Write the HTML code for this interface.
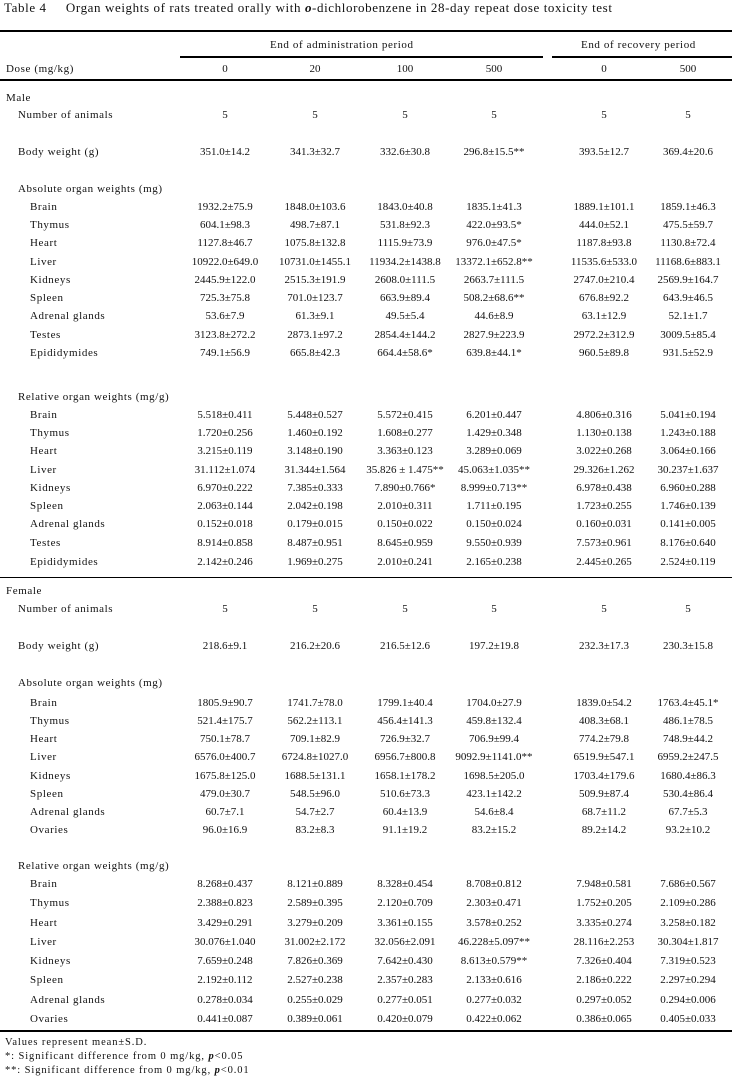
<!DOCTYPE html><html><head><meta charset="utf-8"><style>
body{margin:0;width:732px;height:1079px;background:#fff;position:relative;overflow:hidden;font-family:"Liberation Serif","Noto Serif CJK SC",serif;font-size:11px;color:#111;letter-spacing:0.6px}
.r{position:absolute;left:0;width:732px;height:14px;line-height:14px;white-space:nowrap}
.r span{position:absolute;top:0}
.l0{left:6px}.l1{left:18px}.l2{left:30px}
.c1,.c2,.c3,.c4,.c5,.c6{width:110px;text-align:center;letter-spacing:0}
.c1{left:170px}.c2{left:260px}.c3{left:350px}.c4{left:439px}.c5{left:549px}.c6{left:633px}
.hr{position:absolute;background:#000}
.ft{font-size:10.5px;letter-spacing:0.9px}
</style></head><body>
<div class="r" style="top:1px;font-size:13px;letter-spacing:0.6px"><span style="left:4px">Table 4&nbsp;&nbsp;&nbsp;&nbsp;&nbsp;Organ weights of rats treated orally with <i><b>o</b></i>-dichlorobenzene in 28-day repeat dose toxicity test</span></div>
<div class="hr" style="left:0;top:30px;width:732px;height:2px"></div>
<div class="r" style="top:38px"><span style="left:270px">End of administration period</span><span style="left:581px">End of recovery period</span></div>
<div class="hr" style="left:180px;top:56px;width:363px;height:1.5px"></div>
<div class="hr" style="left:552px;top:56px;width:180px;height:1.5px"></div>
<div class="r" style="top:62px"><span class="l0">Dose (mg/kg)</span><span class="c1">0</span><span class="c2">20</span><span class="c3">100</span><span class="c4">500</span><span class="c5">0</span><span class="c6">500</span></div>
<div class="hr" style="left:0;top:79px;width:732px;height:1.5px"></div>

<div class="r" style="top:91px"><span class="l0">Male</span></div>
<div class="r" style="top:108px"><span class="l1">Number of animals</span><span class="c1">5</span><span class="c2">5</span><span class="c3">5</span><span class="c4">5</span><span class="c5">5</span><span class="c6">5</span></div>
<div class="r" style="top:145px"><span class="l1">Body weight (g)</span><span class="c1">351.0±14.2</span><span class="c2">341.3±32.7</span><span class="c3">332.6±30.8</span><span class="c4">296.8±15.5**</span><span class="c5">393.5±12.7</span><span class="c6">369.4±20.6</span></div>
<div class="r" style="top:182px"><span class="l1">Absolute organ weights (mg)</span></div>
<div class="r" style="top:200px"><span class="l2">Brain</span><span class="c1">1932.2±75.9</span><span class="c2">1848.0±103.6</span><span class="c3">1843.0±40.8</span><span class="c4">1835.1±41.3</span><span class="c5">1889.1±101.1</span><span class="c6">1859.1±46.3</span></div>
<div class="r" style="top:218px"><span class="l2">Thymus</span><span class="c1">604.1±98.3</span><span class="c2">498.7±87.1</span><span class="c3">531.8±92.3</span><span class="c4">422.0±93.5*</span><span class="c5">444.0±52.1</span><span class="c6">475.5±59.7</span></div>
<div class="r" style="top:236px"><span class="l2">Heart</span><span class="c1">1127.8±46.7</span><span class="c2">1075.8±132.8</span><span class="c3">1115.9±73.9</span><span class="c4">976.0±47.5*</span><span class="c5">1187.8±93.8</span><span class="c6">1130.8±72.4</span></div>
<div class="r" style="top:255px"><span class="l2">Liver</span><span class="c1">10922.0±649.0</span><span class="c2">10731.0±1455.1</span><span class="c3">11934.2±1438.8</span><span class="c4">13372.1±652.8**</span><span class="c5">11535.6±533.0</span><span class="c6">11168.6±883.1</span></div>
<div class="r" style="top:273px"><span class="l2">Kidneys</span><span class="c1">2445.9±122.0</span><span class="c2">2515.3±191.9</span><span class="c3">2608.0±111.5</span><span class="c4">2663.7±111.5</span><span class="c5">2747.0±210.4</span><span class="c6">2569.9±164.7</span></div>
<div class="r" style="top:291px"><span class="l2">Spleen</span><span class="c1">725.3±75.8</span><span class="c2">701.0±123.7</span><span class="c3">663.9±89.4</span><span class="c4">508.2±68.6**</span><span class="c5">676.8±92.2</span><span class="c6">643.9±46.5</span></div>
<div class="r" style="top:309px"><span class="l2">Adrenal glands</span><span class="c1">53.6±7.9</span><span class="c2">61.3±9.1</span><span class="c3">49.5±5.4</span><span class="c4">44.6±8.9</span><span class="c5">63.1±12.9</span><span class="c6">52.1±1.7</span></div>
<div class="r" style="top:328px"><span class="l2">Testes</span><span class="c1">3123.8±272.2</span><span class="c2">2873.1±97.2</span><span class="c3">2854.4±144.2</span><span class="c4">2827.9±223.9</span><span class="c5">2972.2±312.9</span><span class="c6">3009.5±85.4</span></div>
<div class="r" style="top:346px"><span class="l2">Epididymides</span><span class="c1">749.1±56.9</span><span class="c2">665.8±42.3</span><span class="c3">664.4±58.6*</span><span class="c4">639.8±44.1*</span><span class="c5">960.5±89.8</span><span class="c6">931.5±52.9</span></div>
<div class="r" style="top:390px"><span class="l1">Relative organ weights (mg/g)</span></div>
<div class="r" style="top:408px"><span class="l2">Brain</span><span class="c1">5.518±0.411</span><span class="c2">5.448±0.527</span><span class="c3">5.572±0.415</span><span class="c4">6.201±0.447</span><span class="c5">4.806±0.316</span><span class="c6">5.041±0.194</span></div>
<div class="r" style="top:426px"><span class="l2">Thymus</span><span class="c1">1.720±0.256</span><span class="c2">1.460±0.192</span><span class="c3">1.608±0.277</span><span class="c4">1.429±0.348</span><span class="c5">1.130±0.138</span><span class="c6">1.243±0.188</span></div>
<div class="r" style="top:444px"><span class="l2">Heart</span><span class="c1">3.215±0.119</span><span class="c2">3.148±0.190</span><span class="c3">3.363±0.123</span><span class="c4">3.289±0.069</span><span class="c5">3.022±0.268</span><span class="c6">3.064±0.166</span></div>
<div class="r" style="top:463px"><span class="l2">Liver</span><span class="c1">31.112±1.074</span><span class="c2">31.344±1.564</span><span class="c3">35.826 ± 1.475**</span><span class="c4">45.063±1.035**</span><span class="c5">29.326±1.262</span><span class="c6">30.237±1.637</span></div>
<div class="r" style="top:481px"><span class="l2">Kidneys</span><span class="c1">6.970±0.222</span><span class="c2">7.385±0.333</span><span class="c3">7.890±0.766*</span><span class="c4">8.999±0.713**</span><span class="c5">6.978±0.438</span><span class="c6">6.960±0.288</span></div>
<div class="r" style="top:499px"><span class="l2">Spleen</span><span class="c1">2.063±0.144</span><span class="c2">2.042±0.198</span><span class="c3">2.010±0.311</span><span class="c4">1.711±0.195</span><span class="c5">1.723±0.255</span><span class="c6">1.746±0.139</span></div>
<div class="r" style="top:517px"><span class="l2">Adrenal glands</span><span class="c1">0.152±0.018</span><span class="c2">0.179±0.015</span><span class="c3">0.150±0.022</span><span class="c4">0.150±0.024</span><span class="c5">0.160±0.031</span><span class="c6">0.141±0.005</span></div>
<div class="r" style="top:536px"><span class="l2">Testes</span><span class="c1">8.914±0.858</span><span class="c2">8.487±0.951</span><span class="c3">8.645±0.959</span><span class="c4">9.550±0.939</span><span class="c5">7.573±0.961</span><span class="c6">8.176±0.640</span></div>
<div class="r" style="top:555px"><span class="l2">Epididymides</span><span class="c1">2.142±0.246</span><span class="c2">1.969±0.275</span><span class="c3">2.010±0.241</span><span class="c4">2.165±0.238</span><span class="c5">2.445±0.265</span><span class="c6">2.524±0.119</span></div>
<div class="hr" style="left:0;top:577px;width:732px;height:1px"></div>

<div class="r" style="top:584px"><span class="l0">Female</span></div>
<div class="r" style="top:602px"><span class="l1">Number of animals</span><span class="c1">5</span><span class="c2">5</span><span class="c3">5</span><span class="c4">5</span><span class="c5">5</span><span class="c6">5</span></div>
<div class="r" style="top:639px"><span class="l1">Body weight (g)</span><span class="c1">218.6±9.1</span><span class="c2">216.2±20.6</span><span class="c3">216.5±12.6</span><span class="c4">197.2±19.8</span><span class="c5">232.3±17.3</span><span class="c6">230.3±15.8</span></div>
<div class="r" style="top:676px"><span class="l1">Absolute organ weights (mg)</span></div>
<div class="r" style="top:696px"><span class="l2">Brain</span><span class="c1">1805.9±90.7</span><span class="c2">1741.7±78.0</span><span class="c3">1799.1±40.4</span><span class="c4">1704.0±27.9</span><span class="c5">1839.0±54.2</span><span class="c6">1763.4±45.1*</span></div>
<div class="r" style="top:714px"><span class="l2">Thymus</span><span class="c1">521.4±175.7</span><span class="c2">562.2±113.1</span><span class="c3">456.4±141.3</span><span class="c4">459.8±132.4</span><span class="c5">408.3±68.1</span><span class="c6">486.1±78.5</span></div>
<div class="r" style="top:732px"><span class="l2">Heart</span><span class="c1">750.1±78.7</span><span class="c2">709.1±82.9</span><span class="c3">726.9±32.7</span><span class="c4">706.9±99.4</span><span class="c5">774.2±79.8</span><span class="c6">748.9±44.2</span></div>
<div class="r" style="top:750px"><span class="l2">Liver</span><span class="c1">6576.0±400.7</span><span class="c2">6724.8±1027.0</span><span class="c3">6956.7±800.8</span><span class="c4">9092.9±1141.0**</span><span class="c5">6519.9±547.1</span><span class="c6">6959.2±247.5</span></div>
<div class="r" style="top:769px"><span class="l2">Kidneys</span><span class="c1">1675.8±125.0</span><span class="c2">1688.5±131.1</span><span class="c3">1658.1±178.2</span><span class="c4">1698.5±205.0</span><span class="c5">1703.4±179.6</span><span class="c6">1680.4±86.3</span></div>
<div class="r" style="top:787px"><span class="l2">Spleen</span><span class="c1">479.0±30.7</span><span class="c2">548.5±96.0</span><span class="c3">510.6±73.3</span><span class="c4">423.1±142.2</span><span class="c5">509.9±87.4</span><span class="c6">530.4±86.4</span></div>
<div class="r" style="top:805px"><span class="l2">Adrenal glands</span><span class="c1">60.7±7.1</span><span class="c2">54.7±2.7</span><span class="c3">60.4±13.9</span><span class="c4">54.6±8.4</span><span class="c5">68.7±11.2</span><span class="c6">67.7±5.3</span></div>
<div class="r" style="top:823px"><span class="l2">Ovaries</span><span class="c1">96.0±16.9</span><span class="c2">83.2±8.3</span><span class="c3">91.1±19.2</span><span class="c4">83.2±15.2</span><span class="c5">89.2±14.2</span><span class="c6">93.2±10.2</span></div>
<div class="r" style="top:859px"><span class="l1">Relative organ weights (mg/g)</span></div>
<div class="r" style="top:877px"><span class="l2">Brain</span><span class="c1">8.268±0.437</span><span class="c2">8.121±0.889</span><span class="c3">8.328±0.454</span><span class="c4">8.708±0.812</span><span class="c5">7.948±0.581</span><span class="c6">7.686±0.567</span></div>
<div class="r" style="top:896px"><span class="l2">Thymus</span><span class="c1">2.388±0.823</span><span class="c2">2.589±0.395</span><span class="c3">2.120±0.709</span><span class="c4">2.303±0.471</span><span class="c5">1.752±0.205</span><span class="c6">2.109±0.286</span></div>
<div class="r" style="top:916px"><span class="l2">Heart</span><span class="c1">3.429±0.291</span><span class="c2">3.279±0.209</span><span class="c3">3.361±0.155</span><span class="c4">3.578±0.252</span><span class="c5">3.335±0.274</span><span class="c6">3.258±0.182</span></div>
<div class="r" style="top:935px"><span class="l2">Liver</span><span class="c1">30.076±1.040</span><span class="c2">31.002±2.172</span><span class="c3">32.056±2.091</span><span class="c4">46.228±5.097**</span><span class="c5">28.116±2.253</span><span class="c6">30.304±1.817</span></div>
<div class="r" style="top:954px"><span class="l2">Kidneys</span><span class="c1">7.659±0.248</span><span class="c2">7.826±0.369</span><span class="c3">7.642±0.430</span><span class="c4">8.613±0.579**</span><span class="c5">7.326±0.404</span><span class="c6">7.319±0.523</span></div>
<div class="r" style="top:973px"><span class="l2">Spleen</span><span class="c1">2.192±0.112</span><span class="c2">2.527±0.238</span><span class="c3">2.357±0.283</span><span class="c4">2.133±0.616</span><span class="c5">2.186±0.222</span><span class="c6">2.297±0.294</span></div>
<div class="r" style="top:993px"><span class="l2">Adrenal glands</span><span class="c1">0.278±0.034</span><span class="c2">0.255±0.029</span><span class="c3">0.277±0.051</span><span class="c4">0.277±0.032</span><span class="c5">0.297±0.052</span><span class="c6">0.294±0.006</span></div>
<div class="r" style="top:1012px"><span class="l2">Ovaries</span><span class="c1">0.441±0.087</span><span class="c2">0.389±0.061</span><span class="c3">0.420±0.079</span><span class="c4">0.422±0.062</span><span class="c5">0.386±0.065</span><span class="c6">0.405±0.033</span></div>
<div class="hr" style="left:0;top:1030px;width:732px;height:2px"></div>
<div class="r ft" style="top:1036px"><span style="left:5px">Values represent mean±S.D.</span></div>
<div class="r ft" style="top:1050px"><span style="left:5px">*: Significant difference from 0 mg/kg, <i><b>p</b></i>&lt;0.05</span></div>
<div class="r ft" style="top:1064px"><span style="left:5px">**: Significant difference from 0 mg/kg, <i><b>p</b></i>&lt;0.01</span></div>
</body></html>
